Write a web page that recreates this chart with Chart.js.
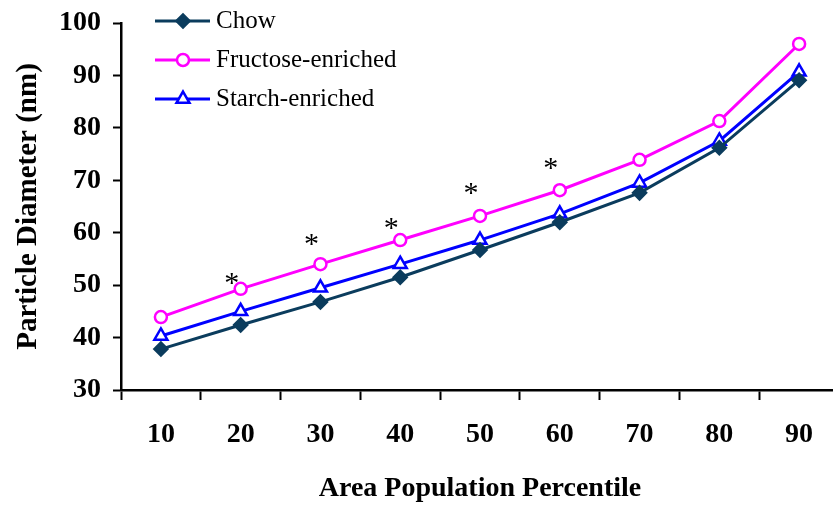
<!DOCTYPE html>
<html>
<head>
<meta charset="utf-8">
<script src="https://cdn.jsdelivr.net/npm/chart.js@4/dist/chart.umd.min.js"></script>
<style>
  html, body { margin: 0; padding: 0; background: #fff; overflow: hidden; }
  #wrap { width: 849px; height: 506px; }
</style>
</head>
<body>
<div id="wrap"><canvas id="chart"></canvas></div>
<script>
// ============================
// DATA
// ============================
const percentiles = ["10", "20", "30", "40", "50", "60", "70", "80", "90"];
const chow      = [37.8, 42.4, 46.8, 51.5, 56.7, 62.0, 67.6, 76.2, 89.1];
const fructose  = [43.9, 49.3, 54.0, 58.6, 63.2, 68.1, 73.9, 81.3, 96.0];
const starch    = [40.3, 45.0, 49.5, 54.0, 58.6, 63.6, 69.5, 77.5, 90.7];
const yTicks    = [30, 40, 50, 60, 70, 80, 90, 100];

// significance marks (category, height in nm)
const starCats   = ["20", "30", "40", "50", "60"];
const starLevels = [50.6, 58.0, 61.1, 67.8, 72.5];

const seriesNames = ["Chow", "Fructose-enriched", "Starch-enriched"];

const SERIF = "'Liberation Serif', 'Times New Roman', serif";

// ============================
// PLUGINS
// ============================
const starPlugin = {
  id: "stars",
  afterDatasetsDraw(chart){
    const {ctx, scales:{x, y}} = chart;
    ctx.save();
    ctx.fillStyle = "#000";
    ctx.font = "30px " + SERIF;
    ctx.textAlign = "center";
    ctx.textBaseline = "alphabetic";
    starCats.forEach((c, i) => {
      const px = x.getPixelForValue(percentiles.indexOf(c)) - 9;
      const py = y.getPixelForValue(starLevels[i]);
      ctx.fillText("*", px, py + 10);
    });
    ctx.restore();
  }
};

// legend: short line with the marker in the middle, label to the right
const legendPlugin = {
  id: "lineLegend",
  afterDraw(chart){
    const {ctx} = chart;
    chart.data.datasets.forEach((ds, i) => {
      const yy = 21 + i * 39;
      ctx.save();
      ctx.strokeStyle = ds.borderColor;
      ctx.lineWidth = ds.borderWidth;
      ctx.beginPath();
      ctx.moveTo(155, yy);
      ctx.lineTo(210, yy);
      ctx.stroke();

      ctx.fillStyle = ds.pointBackgroundColor;
      ctx.strokeStyle = ds.pointBorderColor;
      ctx.lineWidth = ds.pointBorderWidth;
      Chart.helpers.drawPoint(ctx, {
        pointStyle: ds.pointStyle,
        radius: ds.pointRadius,
        borderWidth: ds.pointBorderWidth
      }, 183, yy);

      ctx.fillStyle = "#000";
      ctx.font = "25px " + SERIF;
      ctx.textAlign = "left";
      ctx.textBaseline = "middle";
      ctx.fillText(ds.label, 216, yy);
      ctx.restore();
    });
  }
};

// ============================
// CHART
// ============================
function lineSet(label, data, color, style, radius, fill){
  return {
    label: label,
    data: data,
    borderColor: color,
    backgroundColor: color,
    borderWidth: 3,
    pointStyle: style,
    pointRadius: radius,
    pointHoverRadius: radius,
    pointBackgroundColor: fill,
    pointBorderColor: color,
    pointBorderWidth: 2.5,
    tension: 0
  };
}

new Chart(document.getElementById("chart"), {
  type: "line",
  data: {
    labels: percentiles,
    datasets: [
      lineSet(seriesNames[0], chow, "#0b3c5d", "rectRot", 6.5, "#0b3c5d"),
      lineSet(seriesNames[1], fructose, "#ff00ff", "circle", 6, "#ffffff"),
      lineSet(seriesNames[2], starch, "#0000ff", "triangle", 7.5, "#ffffff")
    ]
  },
  options: {
    responsive: true,
    maintainAspectRatio: false,
    animation: false,
    events: [],
    layout: { padding: { top: 23, right: 0, left: 0, bottom: 0 } },
    plugins: {
      legend: { display: false },
      tooltip: { enabled: false }
    },
    scales: {
      x: {
        offset: true,
        grid: {
          offset: true,
          drawOnChartArea: false,
          drawTicks: true,
          tickLength: 10,
          tickWidth: 2,
          tickColor: "#000"
        },
        border: { color: "#000", width: 2.5 },
        ticks: {
          color: "#000",
          padding: 18,
          maxRotation: 0,
          font: { family: SERIF, size: 28, weight: "bold" }
        },
        title: {
          display: true,
          text: "Area Population Percentile",
          color: "#000",
          padding: { top: -10, bottom: 0 },
          font: { family: SERIF, size: 28, weight: "bold" }
        },
        afterFit(scale){ scale.height = 116; }
      },
      y: {
        min: yTicks[0],
        max: yTicks[yTicks.length - 1],
        afterBuildTicks(scale){
          scale.ticks = yTicks.map(v => ({value: v}));
        },
        grid: {
          drawOnChartArea: false,
          drawTicks: true,
          tickLength: 8,
          tickWidth: 2,
          tickColor: "#000"
        },
        border: { color: "#000", width: 2.5 },
        ticks: {
          color: "#000",
          padding: 12,
          font: { family: SERIF, size: 28, weight: "bold" }
        },
        title: {
          display: true,
          text: "Particle Diameter (nm)",
          color: "#000",
          padding: { top: 11, bottom: 0 },
          font: { family: SERIF, size: 29, weight: "bold" }
        },
        afterFit(scale){
          scale.width = 121;
          scale.paddingTop = 0;
          scale.paddingBottom = 0;
        }
      }
    }
  },
  plugins: [starPlugin, legendPlugin]
});
</script>
</body>
</html>
